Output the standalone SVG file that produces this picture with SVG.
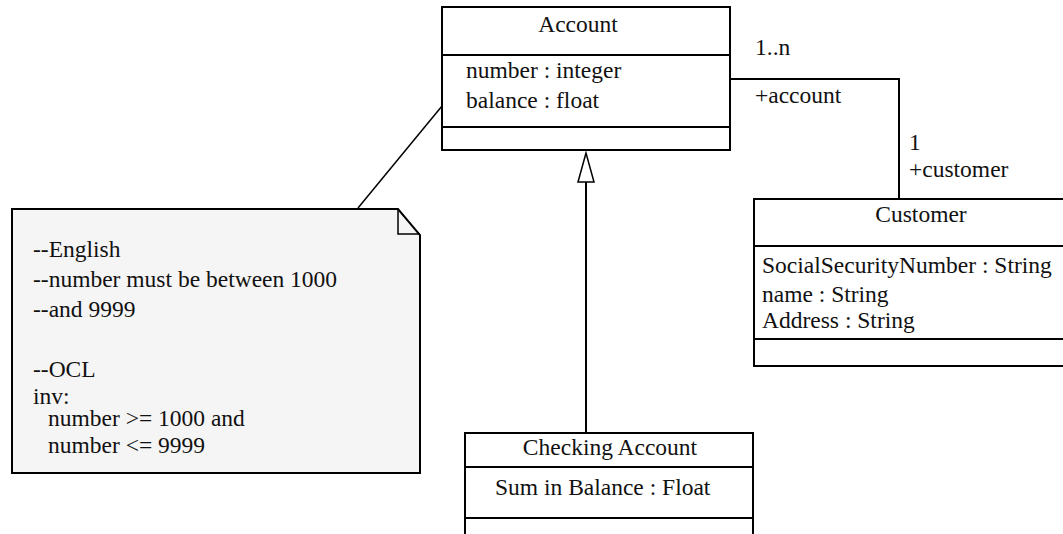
<svg xmlns="http://www.w3.org/2000/svg" width="1063" height="534" viewBox="0 0 1063 534" font-family="'Liberation Serif', 'Times New Roman', Times, serif" font-size="23.5">
<style>
text{font-family:'Liberation Serif','Times New Roman',Times,serif;font-size:23.5px;fill:#111}
.box{fill:#fff;stroke:#000;stroke-width:2}
.div{stroke:#000;stroke-width:2}
.con{fill:none;stroke:#000;stroke-width:1.5}
.mid{text-anchor:middle}
</style>
<rect width="1063" height="534" fill="#fff"/>
<g id="connectors">
<line class="con" x1="358" y1="208" x2="442" y2="106"/>
<polyline class="con" points="730,79 899,79 899,200" style="stroke-width:2"/>
<line class="con" x1="586" y1="182" x2="586" y2="433" style="stroke-width:2"/>
<polygon points="586,153 578,182 594,182" fill="#fff" stroke="#000" stroke-width="1.5"/>
<text x="755" y="55">1..n</text>
<text x="755" y="103">+account</text>
<text x="909" y="150">1</text>
<text x="909" y="177">+customer</text>
</g>
<g id="account">
<rect class="box" x="442" y="7" width="288" height="143"/>
<line class="div" x1="442" y1="55" x2="730" y2="55"/>
<line class="div" x1="442" y1="127" x2="730" y2="127"/>
<text class="mid" x="578" y="32">Account</text>
<text x="466" y="78">number : integer</text>
<text x="466" y="108">balance : float</text>
</g>
<g id="customer">
<rect class="box" x="754" y="199" width="320" height="167"/>
<line class="div" x1="754" y1="246" x2="1070" y2="246"/>
<line class="div" x1="754" y1="339" x2="1070" y2="339"/>
<text class="mid" x="921" y="222">Customer</text>
<text x="762" y="273">SocialSecurityNumber : String</text>
<text x="762" y="302">name : String</text>
<text x="762" y="328">Address : String</text>
</g>
<g id="checking">
<rect class="box" x="465" y="433" width="288" height="110"/>
<line class="div" x1="465" y1="467" x2="753" y2="467"/>
<line class="div" x1="465" y1="518" x2="753" y2="518"/>
<text class="mid" x="610" y="455">Checking Account</text>
<text x="495" y="495">Sum in Balance : Float</text>
</g>
<g id="note">
<path d="M12,209 L398,209 L420,235 L420,473 L12,473 Z" fill="#f5f5f5" stroke="#000" stroke-width="2"/>
<polyline points="398,209 398,234 420,234" fill="none" stroke="#000" stroke-width="1.5"/>
<text x="33" y="257">--English</text>
<text x="33" y="287">--number must be between 1000</text>
<text x="33" y="317">--and 9999</text>
<text x="33" y="377">--OCL</text>
<text x="33" y="404">inv:</text>
<text x="48" y="426">number &gt;= 1000 and</text>
<text x="48" y="453">number &lt;= 9999</text>
</g>
</svg>
